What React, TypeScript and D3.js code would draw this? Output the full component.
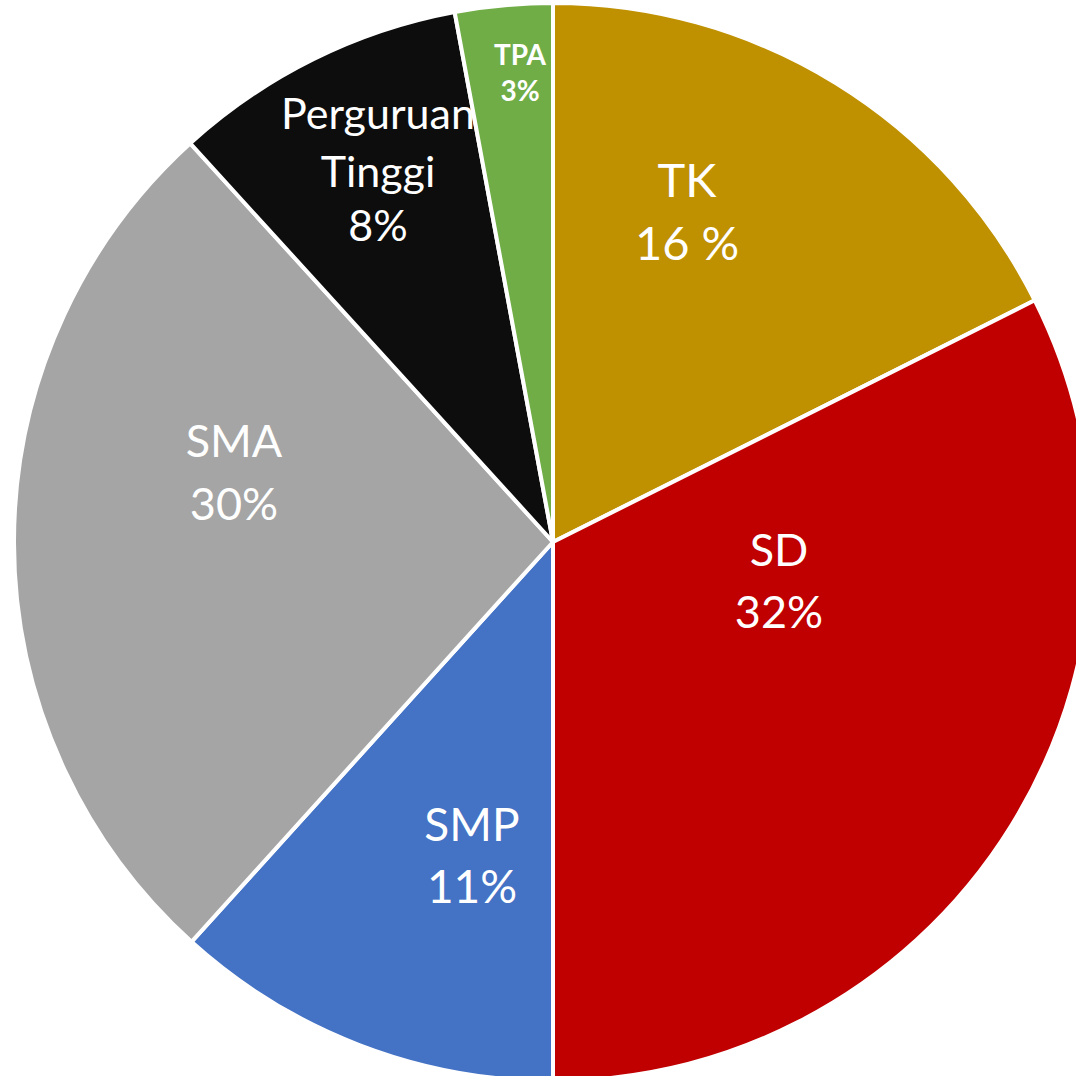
import * as d3 from 'd3'

// slices clockwise from 12 o'clock; shares
const categories = ['TK', 'SD', 'SMP', 'SMA', 'Perguruan Tinggi', 'TPA']
const shares = [17.6, 32.4, 11.7, 26.55, 8.83, 2.92]
// percent text as printed on the chart
const percentLabels = ['16 %', '32%', '11%', '30%', '8%', '3%']
const nameLines = [['TK'], ['SD'], ['SMP'], ['SMA'], ['Perguruan', 'Tinggi'], ['TPA']]

const colors = ['#BF9000', '#C00000', '#4472C4', '#A5A5A5', '#0D0D0D', '#70AD47']

// label placement (centre x, baselines) and type size per slice
const labelLayout = [
  { x: 687, baselines: [197, 260], size: 47, weight: 400 },
  { x: 779, baselines: [566, 628], size: 45, weight: 400 },
  { x: 472, baselines: [841, 903], size: 46, weight: 400 },
  { x: 234, baselines: [457, 520], size: 45, weight: 400 },
  { x: 378, baselines: [129, 187, 241], size: 43, weight: 400 },
  { x: 520, baselines: [65, 101], size: 28, weight: 700 },
]

const W = 1076
const H = 1076
const cx = 553
const cy = 542
const radius = 539

interface Slice {
  name: string
  value: number
}

export default function App() {
  const data: Slice[] = categories.map((name, i) => ({ name, value: shares[i] }))

  const pie = d3
    .pie<Slice>()
    .value((d) => d.value)
    .sort(null)
    .startAngle(0)
    .endAngle(2 * Math.PI)

  const arc = d3.arc<d3.PieArcDatum<Slice>>().innerRadius(0).outerRadius(radius)

  const arcs = pie(data)

  return (
    <svg
      width={W}
      height={H}
      style={{ position: 'absolute', left: 0, top: 0, display: 'block', background: '#fff' }}
    >
      <g fontFamily="Lato, 'Open Sans', sans-serif" fill="#fff">
        {arcs.map((a, i) => {
          const layout = labelLayout[i]
          const lines = [...nameLines[i], percentLabels[i]]
          return (
            <g key={a.data.name}>
              <path
                d={arc(a) ?? ''}
                transform={`translate(${cx},${cy})`}
                fill={colors[i]}
                stroke="#fff"
                strokeWidth={4}
                strokeLinejoin="round"
              />
              {lines.map((line, j) => (
                <text
                  key={j}
                  x={layout.x}
                  y={layout.baselines[j]}
                  textAnchor="middle"
                  fontSize={layout.size}
                  fontWeight={layout.weight}
                  fill="#fff"
                >
                  {line}
                </text>
              ))}
            </g>
          )
        })}
      </g>
    </svg>
  )
}
